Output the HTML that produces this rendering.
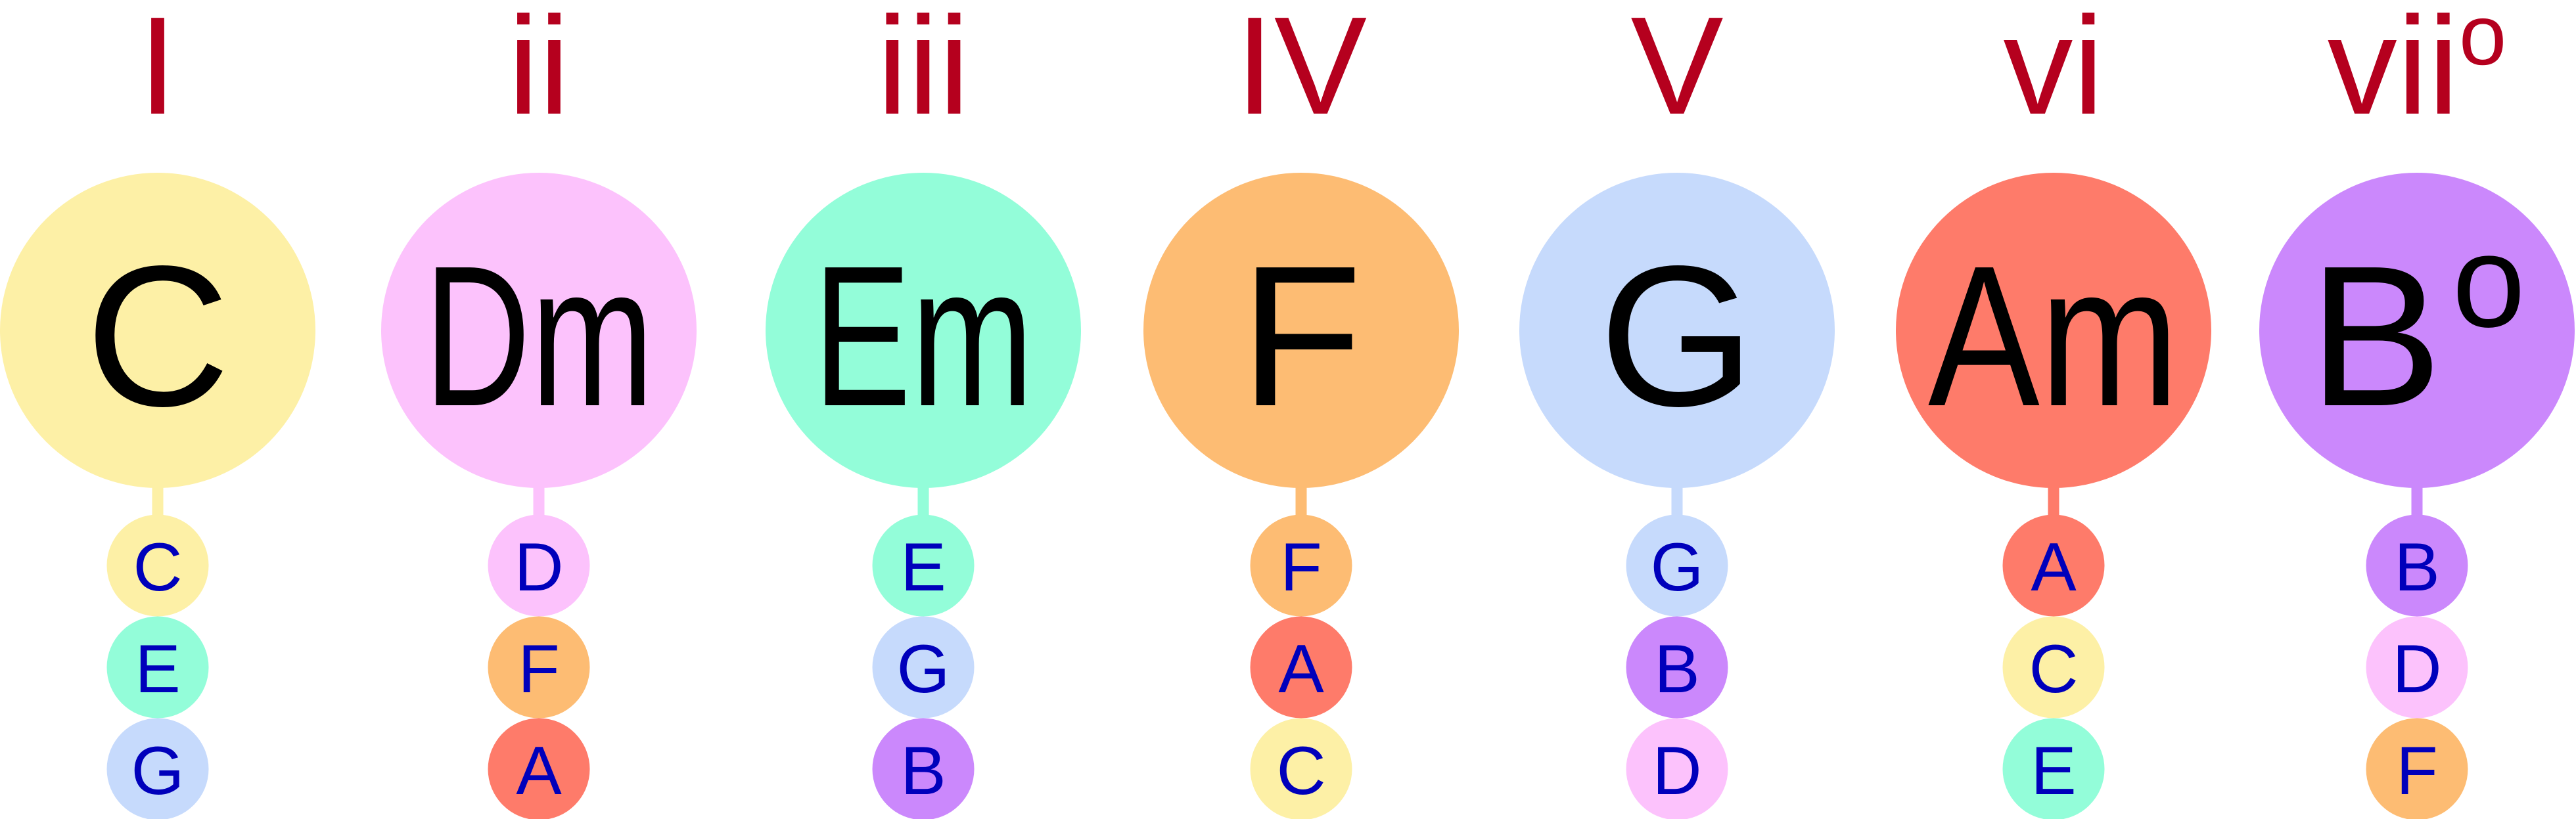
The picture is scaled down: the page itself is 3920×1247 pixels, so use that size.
<!DOCTYPE html>
<html><head><meta charset="utf-8"><style>
html,body{margin:0;padding:0;background:#fff;}
svg{display:block;}
text{font-family:"Liberation Sans",sans-serif;}
</style></head><body>
<svg id="chart" width="3920" height="1247" viewBox="0 0 3920 1247" xmlns="http://www.w3.org/2000/svg"></svg>
<script>
const numerals = ["I","ii","iii","IV","V","vi","vii"];
const numeralSup = ["","","","","","","o"];
const chordRoots = ["C","Dm","Em","F","G","Am","B"];
const chordSup = ["","","","","","","o"];
const chordNotes = [["C","E","G"],["D","F","A"],["E","G","B"],["F","A","C"],["G","B","D"],["A","C","E"],["B","D","F"]];
const noteNames = ["C","D","E","F","G","A","B"];
const noteColors = ["#fdf0a6","#fcc2fc","#93fdd9","#fdbc73","#c6dafc","#fe7b6a","#cb88fc"];

const svg = document.getElementById('chart');
const NS = "http://www.w3.org/2000/svg";
const slotX = [240, 820, 1405, 1980, 2552, 3125, 3678];
const xPos = i => slotX[i];
const colorOf = n => noteColors[noteNames.indexOf(n[0])];
function mk(tag, attrs){const e=document.createElementNS(NS,tag);for(const k in attrs)e.setAttribute(k,attrs[k]);svg.appendChild(e);return e;}

chordRoots.forEach((root, i) => {
  const cx = xPos(i);
  const col = colorOf(root);
  const t = mk('text',{x:cx,y:173,'text-anchor':'middle','font-size':212,fill:'#b5001e'});
  
  
  t.textContent = numerals[i];
  if (numeralSup[i]) {
    const s = document.createElementNS(NS,'tspan');
    s.setAttribute('font-size','130'); s.setAttribute('dy','-75');
    s.textContent = numeralSup[i]; t.appendChild(s);
  }
  const st = mk('rect',{x:cx-8.5,y:700,width:17,height:100,fill:col});
  
  
  const c = mk('circle',{cx:cx,cy:503,r:240,fill:col});
  
  
  const ct = mk('text',{x:cx,y:617,'text-anchor':'middle','font-size':305,fill:'#000'});
  
  
  ct.textContent = root;
  if (root.length > 1) {
    ct.setAttribute('textLength', String(root[0] === 'A' ? 382 : root[0] === 'D' ? 350 : 335));
    ct.setAttribute('lengthAdjust', 'spacingAndGlyphs');
  }
  if (chordSup[i]) {
    const s = document.createElementNS(NS,'tspan');
    s.setAttribute('font-size','200'); s.setAttribute('dy','-120'); s.setAttribute('dx','15');
    s.textContent = chordSup[i]; ct.appendChild(s);
  }
  chordNotes[i].forEach((n, j) => {
    const cy = 861 + j * 155;
    const nc = mk('circle',{cx:cx,cy:cy,r:77.5,fill:colorOf(n)});
    
    
    const nt = mk('text',{x:cx,y:cy+38,'text-anchor':'middle','font-size':104,fill:'#0000bb'});
    
    
    nt.textContent = n;
  });
});
</script>
</body></html>
